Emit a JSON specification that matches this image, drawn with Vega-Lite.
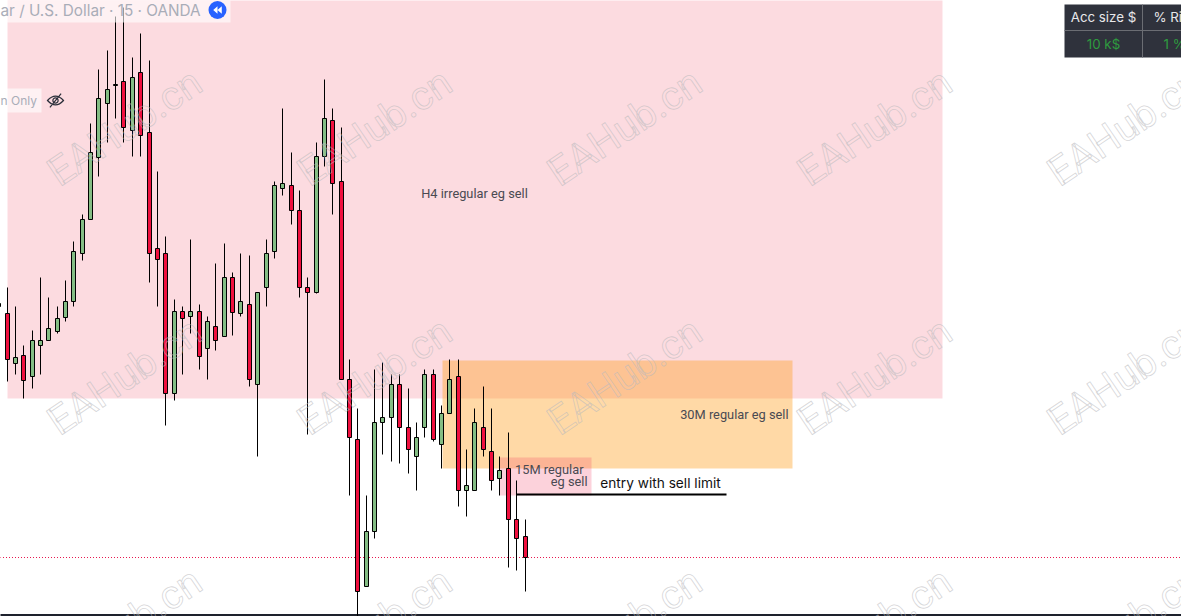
{"$schema":"https://vega.github.io/schema/vega-lite/v6.json","width":1181,"height":616,"autosize":{"type":"none"},"padding":{"left":0.5,"top":0.5,"right":0,"bottom":0},"background":"white","config":{"view":{"stroke":null}},
"datasets":{
"candles":[
{"i":-1,"open":310,"high":313,"low":310,"close":313,"dir":"up"},
{"i":0,"open":303,"high":329,"low":235,"close":257,"dir":"down"},{"i":1,"open":253,"high":310,"low":242,"close":259,"dir":"up"},{"i":2,"open":261,"high":271,"low":218,"close":236,"dir":"down"},{"i":3,"open":240,"high":286,"low":228,"close":276,"dir":"up"},{"i":4,"open":271,"high":339,"low":242,"close":276,"dir":"up"},{"i":5,"open":276,"high":319,"low":276,"close":288,"dir":"up"},{"i":6,"open":285,"high":310,"low":283,"close":298,"dir":"up"},{"i":7,"open":299,"high":336,"low":295,"close":315,"dir":"up"},{"i":8,"open":315,"high":375,"low":310,"close":365,"dir":"up"},{"i":9,"open":363,"high":402,"low":356,"close":397,"dir":"up"},
{"i":10,"open":397,"high":493,"low":397,"close":464,"dir":"up"},{"i":11,"open":459,"high":547,"low":440,"close":518,"dir":"up"},{"i":12,"open":513,"high":566,"low":474,"close":527,"dir":"up"},{"i":13,"open":531,"high":600,"low":498,"close":532,"dir":"up"},{"i":14,"open":535,"high":609,"low":474,"close":489,"dir":"down"},{"i":15,"open":486,"high":559,"low":460,"close":539,"dir":"up"},{"i":16,"open":544,"high":583,"low":460,"close":481,"dir":"down"},{"i":17,"open":484,"high":556,"low":334,"close":363,"dir":"down"},{"i":18,"open":368,"high":445,"low":310,"close":357,"dir":"down"},{"i":19,"open":363,"high":380,"low":191,"close":223,"dir":"down"},
{"i":20,"open":223,"high":317,"low":216,"close":305,"dir":"up"},{"i":21,"open":305,"high":310,"low":242,"close":298,"dir":"down"},{"i":22,"open":300,"high":377,"low":283,"close":305,"dir":"up"},{"i":23,"open":305,"high":312,"low":247,"close":260,"dir":"down"},{"i":24,"open":268,"high":300,"low":237,"close":295,"dir":"up"},{"i":25,"open":290,"high":353,"low":266,"close":276,"dir":"down"},{"i":26,"open":280,"high":373,"low":280,"close":339,"dir":"up"},{"i":27,"open":339,"high":344,"low":281,"close":304,"dir":"down"},{"i":28,"open":303,"high":363,"low":300,"close":315,"dir":"up"},{"i":29,"open":312,"high":361,"low":230,"close":237,"dir":"down"},
{"i":30,"open":232,"high":324,"low":160,"close":324,"dir":"up"},{"i":31,"open":329,"high":377,"low":310,"close":363,"dir":"up"},{"i":32,"open":365,"high":435,"low":358,"close":431,"dir":"up"},{"i":33,"open":428,"high":508,"low":421,"close":433,"dir":"up"},{"i":34,"open":431,"high":464,"low":392,"close":406,"dir":"down"},{"i":35,"open":406,"high":426,"low":319,"close":329,"dir":"down"},{"i":36,"open":329,"high":339,"low":182,"close":324,"dir":"down"},{"i":37,"open":324,"high":474,"low":323,"close":460,"dir":"up"},{"i":38,"open":460,"high":537,"low":450,"close":498,"dir":"up"},{"i":39,"open":496,"high":508,"low":402,"close":433,"dir":"down"},
{"i":40,"open":435,"high":489,"low":237,"close":237,"dir":"down"},{"i":41,"open":237,"high":257,"low":121,"close":179,"dir":"down"},{"i":42,"open":177,"high":208,"low":0,"close":25,"dir":"down"},{"i":43,"open":30,"high":121,"low":30,"close":85,"dir":"up"},{"i":44,"open":85,"high":247,"low":78,"close":194,"dir":"up"},{"i":45,"open":194,"high":254,"low":162,"close":199,"dir":"up"},{"i":46,"open":199,"high":242,"low":155,"close":232,"dir":"up"},{"i":47,"open":232,"high":242,"low":153,"close":189,"dir":"down"},{"i":48,"open":189,"high":228,"low":143,"close":167,"dir":"down"},{"i":49,"open":160,"high":194,"low":126,"close":179,"dir":"up"},
{"i":50,"open":189,"high":247,"low":179,"close":242,"dir":"up"},{"i":51,"open":242,"high":247,"low":175,"close":177,"dir":"down"},{"i":52,"open":172,"high":211,"low":148,"close":203,"dir":"up"},{"i":53,"open":203,"high":257,"low":203,"close":237,"dir":"up"},{"i":54,"open":240,"high":257,"low":110,"close":126,"dir":"down"},{"i":55,"open":126,"high":167,"low":100,"close":131,"dir":"up"},{"i":56,"open":126,"high":208,"low":126,"close":194,"dir":"up"},{"i":57,"open":189,"high":230,"low":160,"close":167,"dir":"down"},{"i":58,"open":165,"high":208,"low":126,"close":136,"dir":"down"},{"i":59,"open":138,"high":160,"low":121,"close":146,"dir":"up"},
{"i":60,"open":148,"high":184,"low":49,"close":97,"dir":"down"},{"i":61,"open":97,"high":136,"low":46,"close":78,"dir":"down"},{"i":62,"open":80,"high":97,"low":25,"close":59,"dir":"down"}],
"marks":[{"i":14.18,"p":488},{"i":44.1,"p":488},{"i":74.03,"p":488},{"i":103.95,"p":488},{"i":133.87,"p":488},{"i":14.18,"p":239},{"i":44.1,"p":239},{"i":74.03,"p":239},{"i":103.95,"p":239},{"i":133.87,"p":239},{"i":14.18,"p":-11},{"i":44.1,"p":-11},{"i":74.03,"p":-11},{"i":103.95,"p":-11},{"i":133.87,"p":-11}]
},
"encoding":{
"x":{"field":"i","type":"quantitative","axis":null,"scale":{"domain":[-0.778,140.57],"nice":false,"zero":false,"padding":0,"round":true}},
"y":{"field":"p","type":"quantitative","axis":null,"scale":{"domain":[0,616],"nice":false,"zero":false}}
},
"layer":[
{"data":{"values":[{"zone":"H4","i":0.06,"i2":111.97,"p":218,"p2":616}]},"mark":{"type":"rect","color":"#ee4a62","opacity":0.2},"encoding":{"x2":{"field":"i2"},"y2":{"field":"p2"}}},
{"data":{"values":[{"zone":"30M","i":52.12,"i2":94,"p":148,"p2":256}]},"mark":{"type":"rect","color":"#ff9c14","opacity":0.38},"encoding":{"x2":{"field":"i2"},"y2":{"field":"p2"}}},
{"data":{"values":[{"zone":"15M","i":58.95,"i2":69.96,"p":121,"p2":159}]},"mark":{"type":"rect","color":"#f0305a","opacity":0.22},"encoding":{"x2":{"field":"i2"},"y2":{"field":"p2"}}},
{"data":{"values":[{"i":-0.778,"i2":140.57,"p":59}]},"mark":{"type":"rule","color":"#e8174f","strokeWidth":1,"strokeDash":[1,2],"strokeDashOffset":0.5},"encoding":{"x2":{"field":"i2"}}},
{"data":{"values":[{"i":-0.778,"i2":140.57,"p":1.5}]},"mark":{"type":"rule","color":"#1e222d","strokeWidth":2},"encoding":{"x2":{"field":"i2"}}},
{"data":{"name":"candles"},"mark":{"type":"rule","color":"#000000","strokeWidth":1},"encoding":{"y":{"field":"high","type":"quantitative","axis":null,"scale":{"domain":[0,616],"nice":false,"zero":false}},"y2":{"field":"low"}}},
{"data":{"name":"candles"},"mark":{"type":"bar","size":4,"stroke":"#000000","strokeWidth":1},"encoding":{"y":{"field":"open","type":"quantitative","axis":null,"scale":{"domain":[0,616],"nice":false,"zero":false}},"y2":{"field":"close"},"fill":{"field":"dir","type":"nominal","legend":null,"scale":{"domain":["up","down"],"range":["#84bd84","#f0103f"]}}}},
{"data":{"values":[{"i":60.98,"i2":86.11,"p":122}]},"mark":{"type":"rule","color":"#000000","strokeWidth":2},"encoding":{"x2":{"field":"i2"}}},
{"data":{"values":[{"i":55.95,"p":423,"t":"H4 irregular eg sell"}]},"mark":{"type":"text","font":"Roboto","fontSize":12.8,"color":"#4a4a52","baseline":"middle","align":"center"},"encoding":{"text":{"field":"t"}}},
{"data":{"values":[{"i":93.54,"p":202,"t":"30M regular eg sell"},{"i":69.0,"p":147,"t":"15M regular"},{"i":69.48,"p":135,"t":"eg sell"}]},"mark":{"type":"text","font":"Roboto","fontSize":12.8,"color":"#4a4a52","baseline":"middle","align":"right"},"encoding":{"text":{"field":"t"}}},
{"data":{"values":[{"i":78.2,"p":133,"t":"entry with sell limit"}]},"mark":{"type":"text","font":"Inter","fontSize":13.7,"color":"#111111","baseline":"middle","align":"center"},"encoding":{"text":{"field":"t"}}},
{"data":{"name":"marks"},"mark":{"type":"text","text":"EAHub.cn","font":"Roboto","fontSize":40,"angle":-34,"fill":"#ffffff","fillOpacity":0.05,"stroke":"#b9b9bd","strokeWidth":0.8,"strokeOpacity":0.6,"align":"center","baseline":"middle"}},
{"data":{"values":[{"i":-0.778,"i2":26.75,"p":594,"p2":616},{"i":-0.778,"i2":4.13,"p":504,"p2":528}]},"mark":{"type":"rect","color":"#ffffff","opacity":0.6},"encoding":{"x2":{"field":"i2"},"y2":{"field":"p2"}}},
{"data":{"values":[{"i":-0.778,"p":606,"t":"ar / U.S. Dollar · 15 · OANDA"}]},"mark":{"type":"text","font":"Inter","fontSize":15.3,"color":"#a9adb8","align":"left","baseline":"middle"},"encoding":{"text":{"field":"t"}}},
{"data":{"values":[{"i":-0.778,"p":516,"t":"n Only"}]},"mark":{"type":"text","font":"Inter","fontSize":12,"color":"#a9adb8","align":"left","baseline":"middle"},"encoding":{"text":{"field":"t"}}},
{"data":{"values":[{"i":25.2,"p":606.5}]},"mark":{"type":"point","shape":"circle","filled":true,"size":324,"color":"#2962ff","opacity":1}},
{"data":{"values":[{"i":25.2,"p":606.5}]},"mark":{"type":"point","shape":"M0,-0.85 L-0.95,0 L0,0.85 Z M0.95,-0.85 L0,0 L0.95,0.85 Z","filled":true,"size":81,"color":"#ffffff","opacity":1}},
{"data":{"values":[{"i":5.8,"p":516}]},"mark":{"type":"point","shape":"M-1,0 Q0,-1.1 1,0 Q0,1.1 -1,0 Z M-0.33,0 A0.33,0.33 0 1 1 0.33,0 A0.33,0.33 0 1 1 -0.33,0 Z M-0.7,0.85 L0.7,-0.85","filled":false,"size":256,"strokeWidth":1.2,"color":"#2a2e39","opacity":1}},
{"data":{"values":[{"i":126.57,"i2":140.57,"p":559,"p2":612}]},"mark":{"type":"rect","color":"#2f323c"},"encoding":{"x2":{"field":"i2"},"y2":{"field":"p2"}}},
{"data":{"values":[{"i":126.57,"i2":140.57,"p":586}]},"mark":{"type":"rule","color":"#6b6d73","strokeWidth":1},"encoding":{"x2":{"field":"i2"}}},
{"data":{"values":[{"i":135.9,"p":559,"p2":612}]},"mark":{"type":"rule","color":"#6b6d73","strokeWidth":1},"encoding":{"y2":{"field":"p2"}}},
{"data":{"values":[{"i":131.24,"p":599,"t":"Acc size $"}]},"mark":{"type":"text","font":"Inter","fontSize":13.3,"color":"#e8e8ea","baseline":"middle","align":"center"},"encoding":{"text":{"field":"t"}}},
{"data":{"values":[{"i":137.2,"p":599,"t":"% Ri"}]},"mark":{"type":"text","font":"Inter","fontSize":13.3,"color":"#e8e8ea","baseline":"middle","align":"left"},"encoding":{"text":{"field":"t"}}},
{"data":{"values":[{"i":131.24,"p":572,"t":"10 k$"}]},"mark":{"type":"text","font":"Inter","fontSize":13.3,"color":"#2e9b3f","baseline":"middle","align":"center"},"encoding":{"text":{"field":"t"}}},
{"data":{"values":[{"i":138.4,"p":572,"t":"1 %"}]},"mark":{"type":"text","font":"Inter","fontSize":13.3,"color":"#2e9b3f","baseline":"middle","align":"left"},"encoding":{"text":{"field":"t"}}}
]}
